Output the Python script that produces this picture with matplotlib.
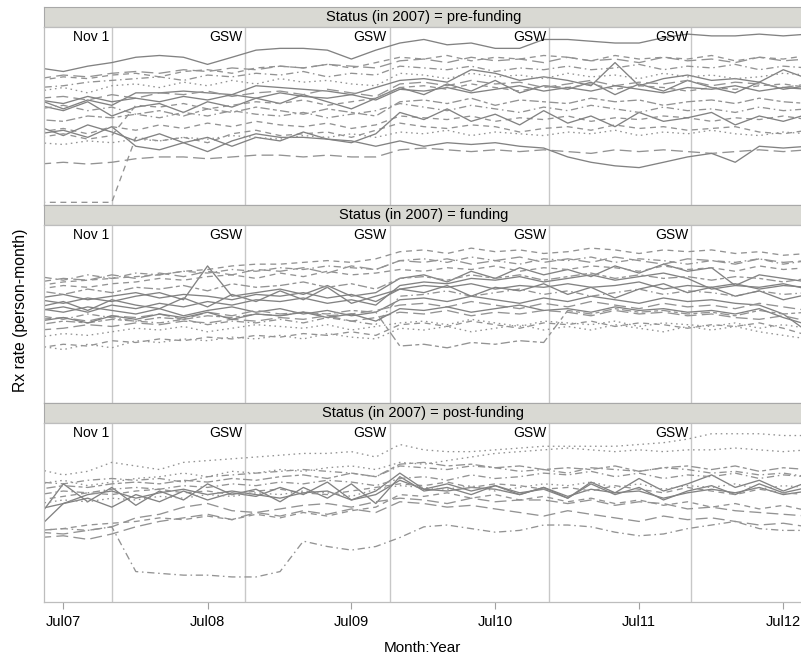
'''
Rx rate per person-month by status in 2007, one panel per status.
'''

import matplotlib
matplotlib.use('Agg')
import matplotlib.pyplot as plt
import pandas as pd

plt.rcParams['font.family'] = ['Liberation Sans', 'DejaVu Sans']

# bimonthly observations, May 2007 .. Sep 2012
months = pd.date_range('2007-05-01', '2012-09-01', freq='2MS')

# event lines
events = ['2007-11-01', '2008-10-05', '2009-10-06', '2010-11-15', '2011-11-10']
event_labels = ['Nov 1', 'GSW', 'GSW', 'GSW', 'GSW']

tick_dates = ['2007-07-01', '2008-07-01', '2009-07-01', '2010-07-01', '2011-07-01', '2012-07-01']
tick_labels = ['Jul07', 'Jul08', 'Jul09', 'Jul10', 'Jul11', 'Jul12']

statuses = ['pre-funding', 'funding', 'post-funding']

# pre-funding
pre_01 = [77, 75, 78, 80, 83, 84, 83, 79, 83, 87, 88, 88, 87, 82, 87, 91, 93, 90, 91, 88, 88, 93, 93, 92, 91, 91, 94, 96, 95, 95, 96, 95, 96]
pre_02 = [1.5, 1.5, 1.5, 1.5, 38, 36, 38, 35, 40, 42, 39, 40, 41, 38, 42, 46, 44, 43, 45, 44, 41, 43, 44, 42, 45, 43, 44, 42, 43, 44, 41, 40, 42]
pre_03 = [23, 24, 23, 24, 26, 27, 27, 26, 27, 28, 28, 27, 28, 27, 27, 31, 32, 31, 30, 31, 30, 31, 30, 29, 31, 30, 31, 30, 29, 30, 31, 30, 31]
pre_04 = [40, 42, 38, 44, 33, 31, 35, 30, 36, 40, 38, 38, 37, 36, 33, 36, 33, 35, 34, 35, 33, 32, 27, 24, 22, 21, 24, 27, 29, 24, 33, 32, 33]
pre_05 = [59, 54, 59, 56, 63, 63, 64, 63, 62, 67, 66, 65, 64, 62, 66, 70, 71, 69, 76, 74, 70, 72, 70, 67, 80, 67, 71, 73, 70, 71, 69, 76, 71]
pre_06 = [70, 72, 71, 73, 74, 72, 75, 76, 74, 77, 78, 77, 79, 77, 80, 83, 82, 84, 81, 83, 82, 84, 83, 81, 84, 82, 83, 82, 84, 81, 83, 82, 84]
pre_07 = [66, 67, 69, 70, 71, 72, 70, 73, 72, 74, 73, 75, 72, 74, 73, 78, 77, 76, 78, 75, 77, 76, 78, 76, 77, 79, 76, 78, 77, 79, 76, 78, 77]
pre_08 = [64, 66, 63, 67, 68, 66, 69, 67, 70, 68, 71, 69, 70, 68, 67, 74, 73, 71, 74, 72, 73, 71, 74, 72, 73, 71, 74, 72, 73, 71, 72, 74, 73]
pre_09 = [56, 53, 58, 50, 55, 57, 52, 58, 55, 60, 57, 62, 58, 54, 60, 66, 62, 68, 64, 70, 63, 67, 65, 69, 62, 68, 64, 70, 66, 63, 69, 65, 67]
pre_10 = [60, 61, 59, 62, 60, 63, 62, 64, 61, 63, 64, 62, 65, 63, 61, 68, 69, 67, 70, 68, 69, 66, 68, 70, 67, 69, 68, 70, 67, 69, 68, 66, 68]
pre_11 = [48, 47, 50, 49, 51, 53, 50, 54, 52, 55, 53, 51, 54, 52, 50, 58, 59, 57, 60, 56, 59, 58, 57, 60, 58, 59, 56, 58, 59, 57, 60, 58, 57]
pre_12 = [41, 43, 40, 44, 42, 45, 43, 46, 44, 47, 45, 44, 46, 43, 45, 50, 49, 48, 50, 47, 49, 48, 50, 47, 49, 48, 50, 49, 47, 49, 48, 50, 48]
pre_13 = [44, 39, 45, 41, 36, 40, 35, 38, 33, 38, 36, 41, 37, 35, 40, 52, 48, 54, 47, 51, 45, 53, 46, 50, 44, 52, 47, 49, 52, 45, 50, 47, 51]
pre_14 = [35, 34, 36, 35, 37, 36, 38, 37, 39, 38, 37, 39, 38, 40, 38, 41, 40, 42, 39, 41, 40, 39, 41, 40, 42, 39, 41, 40, 42, 40, 39, 41, 40]
pre_15 = [54, 56, 53, 55, 51, 49, 52, 50, 53, 51, 50, 52, 49, 51, 53, 57, 55, 53, 56, 54, 52, 55, 53, 56, 54, 52, 55, 53, 54, 52, 55, 53, 54]
pre_16 = [38, 40, 37, 39, 56, 55, 57, 54, 56, 58, 57, 59, 56, 58, 60, 66, 67, 65, 68, 66, 64, 67, 66, 68, 65, 67, 66, 64, 66, 65, 67, 68, 66]
pre_17 = [59, 57, 61, 58, 60, 58, 61, 59, 62, 60, 63, 61, 60, 62, 59, 65, 64, 66, 63, 65, 67, 64, 66, 64, 67, 65, 63, 66, 65, 67, 64, 66, 65]
pre_18 = [71, 73, 72, 74, 75, 74, 76, 75, 77, 76, 78, 77, 79, 78, 77, 81, 82, 80, 83, 81, 82, 80, 83, 81, 82, 80, 83, 81, 82, 80, 83, 81, 82]

# funding
fun_01 = [66, 68, 69, 70, 71, 72, 74, 75, 77, 78, 78, 79, 80, 79, 81, 85, 86, 84, 87, 85, 86, 84, 85, 87, 86, 84, 86, 85, 86, 84, 85, 83, 84]
fun_02 = [71, 69, 72, 70, 73, 72, 74, 73, 75, 74, 76, 75, 77, 76, 75, 80, 81, 79, 82, 80, 78, 81, 80, 82, 79, 81, 80, 78, 80, 79, 81, 78, 80]
fun_03 = [58, 56, 59, 57, 60, 62, 58, 77, 60, 62, 64, 61, 66, 60, 62, 70, 72, 68, 74, 70, 76, 72, 75, 71, 77, 73, 78, 74, 76, 66, 72, 70, 68]
fun_04 = [52, 54, 51, 55, 53, 56, 54, 57, 55, 58, 57, 59, 56, 58, 55, 66, 68, 67, 70, 69, 71, 68, 70, 72, 69, 71, 73, 70, 64, 66, 65, 67, 64]
fun_05 = [53, 51, 54, 52, 50, 53, 49, 52, 54, 51, 53, 50, 52, 49, 51, 58, 59, 57, 60, 58, 56, 59, 57, 60, 58, 56, 59, 57, 58, 56, 55, 50, 40]
fun_06 = [47, 48, 46, 49, 48, 50, 47, 51, 49, 52, 50, 51, 49, 50, 52, 55, 56, 54, 57, 55, 53, 56, 54, 57, 55, 53, 56, 54, 55, 53, 56, 54, 52]
fun_07 = [37, 39, 38, 40, 42, 41, 43, 40, 42, 44, 43, 42, 44, 41, 43, 45, 46, 44, 47, 45, 43, 46, 45, 44, 46, 43, 45, 44, 43, 45, 42, 44, 42]
fun_08 = [44, 46, 45, 47, 46, 48, 47, 49, 48, 50, 49, 51, 50, 52, 51, 32, 33, 31, 34, 33, 35, 34, 52, 50, 53, 51, 52, 50, 51, 49, 52, 50, 51]
fun_09 = [31, 33, 32, 35, 34, 36, 35, 37, 36, 38, 37, 39, 38, 40, 38, 44, 45, 43, 46, 44, 42, 45, 44, 46, 43, 45, 44, 42, 44, 43, 45, 42, 38]
fun_10 = [41, 42, 44, 43, 45, 44, 46, 45, 47, 46, 48, 47, 49, 46, 48, 51, 50, 52, 49, 51, 50, 52, 51, 49, 52, 50, 51, 49, 50, 48, 47, 49, 46]
fun_11 = [59, 61, 58, 60, 62, 59, 61, 60, 58, 61, 60, 62, 59, 61, 57, 64, 66, 65, 67, 64, 66, 65, 67, 65, 66, 68, 64, 66, 65, 67, 64, 66, 65]
fun_12 = [49, 47, 50, 48, 46, 45, 47, 44, 46, 45, 47, 45, 48, 46, 44, 60, 61, 63, 60, 62, 64, 61, 63, 60, 62, 64, 61, 63, 62, 60, 63, 61, 62]
fun_13 = [64, 66, 65, 67, 68, 70, 69, 71, 72, 70, 73, 71, 74, 72, 73, 75, 74, 76, 75, 77, 74, 76, 75, 77, 76, 74, 77, 75, 76, 74, 77, 75, 76]
fun_14 = [54, 57, 52, 58, 55, 53, 59, 54, 61, 57, 63, 58, 65, 56, 60, 64, 62, 66, 60, 65, 63, 67, 61, 65, 59, 64, 67, 62, 65, 60, 63, 58, 61]
fun_15 = [32, 30, 33, 31, 35, 34, 36, 35, 37, 36, 38, 36, 39, 37, 36, 42, 41, 43, 40, 42, 44, 41, 43, 41, 44, 42, 40, 43, 41, 43, 40, 38, 36]
fun_16 = [68, 70, 69, 72, 70, 73, 71, 74, 72, 75, 74, 76, 73, 77, 75, 80, 79, 81, 78, 80, 82, 79, 81, 79, 82, 80, 78, 81, 80, 78, 81, 79, 80]
fun_17 = [63, 61, 64, 62, 65, 64, 66, 63, 67, 65, 66, 68, 65, 67, 64, 70, 71, 69, 72, 70, 72, 69, 71, 73, 70, 72, 70, 71, 69, 71, 70, 68, 70]
fun_18 = [46, 48, 45, 49, 47, 50, 48, 51, 47, 50, 49, 51, 48, 50, 46, 53, 52, 54, 51, 53, 55, 52, 53, 51, 54, 52, 53, 51, 52, 50, 53, 48, 44]

# post-funding
post_01 = [74, 71, 73, 78, 76, 74, 78, 79, 80, 81, 82, 83, 83, 84, 81, 88, 85, 84, 84, 85, 86, 87, 87, 87, 87, 88, 89, 91, 94, 94, 94, 93, 93]
post_02 = [66, 68, 65, 67, 69, 70, 72, 70, 73, 72, 74, 73, 75, 76, 74, 78, 77, 79, 81, 83, 84, 85, 86, 85, 84, 85, 84, 85, 85, 86, 85, 84, 85]
post_03 = [40, 41, 40, 42, 17, 16, 15, 15, 14, 14, 17, 34, 31, 29, 31, 36, 42, 43, 41, 39, 40, 43, 43, 42, 39, 37, 38, 41, 43, 45, 41, 40, 40]
post_04 = [67, 66, 68, 69, 68, 69, 67, 70, 71, 72, 73, 74, 73, 72, 70, 76, 75, 74, 76, 75, 73, 74, 72, 75, 74, 73, 75, 74, 72, 73, 71, 72, 70]
post_05 = [48, 66, 56, 64, 54, 62, 57, 66, 60, 63, 56, 64, 58, 66, 55, 70, 62, 64, 60, 65, 61, 63, 58, 66, 60, 64, 57, 62, 65, 60, 66, 61, 64]
post_06 = [42, 55, 60, 62, 58, 61, 63, 60, 62, 60, 58, 61, 62, 57, 60, 68, 63, 62, 64, 63, 60, 64, 59, 63, 61, 62, 58, 61, 63, 61, 64, 60, 62]
post_07 = [39, 38, 40, 42, 47, 49, 53, 55, 51, 50, 52, 54, 55, 53, 56, 58, 57, 55, 58, 56, 57, 57, 55, 57, 54, 56, 55, 52, 53, 51, 50, 49, 48]
post_08 = [40, 41, 43, 44, 45, 47, 46, 48, 46, 49, 47, 50, 48, 51, 53, 60, 59, 61, 58, 60, 57, 59, 56, 58, 55, 57, 54, 56, 53, 55, 52, 54, 51]
post_09 = [63, 65, 64, 66, 67, 66, 68, 67, 69, 68, 70, 71, 69, 72, 70, 77, 78, 76, 77, 75, 76, 74, 75, 74, 76, 73, 75, 76, 74, 76, 73, 75, 74]
post_10 = [57, 59, 61, 60, 62, 63, 61, 62, 60, 62, 63, 61, 60, 62, 64, 66, 65, 67, 64, 66, 65, 63, 64, 62, 65, 63, 61, 64, 62, 60, 63, 61, 60]
post_11 = [52, 55, 58, 53, 60, 56, 62, 57, 61, 59, 64, 60, 67, 57, 62, 72, 63, 66, 62, 65, 60, 64, 58, 67, 61, 69, 62, 66, 71, 64, 68, 62, 67]
post_12 = [36, 37, 35, 38, 42, 45, 47, 49, 46, 50, 48, 51, 49, 52, 50, 56, 55, 53, 54, 52, 50, 48, 51, 49, 47, 45, 48, 46, 47, 45, 43, 44, 42]
post_13 = [60, 62, 61, 63, 64, 63, 65, 64, 66, 65, 67, 66, 68, 67, 65, 69, 70, 68, 71, 69, 70, 72, 71, 73, 70, 72, 69, 71, 70, 72, 69, 71, 70]
post_14 = [55, 57, 56, 58, 57, 59, 58, 60, 59, 61, 60, 62, 61, 59, 63, 65, 64, 63, 65, 62, 64, 66, 65, 67, 64, 66, 63, 65, 64, 66, 63, 65, 64]

# line types, R style
LTY = {
    'solid': '-',
    'dashed': (0, (4.5, 3.5)),
    'dotted': (0, (1.2, 2.8)),
    'dotdash': (0, (1.2, 2.8, 5.5, 2.8)),
    'longdash': (0, (9, 4)),
    'twodash': (0, (3, 2.5, 7, 2.5)),
}

panels = [
    [(pre_01, 'solid'), (pre_02, 'dashed'), (pre_03, 'longdash'), (pre_04, 'solid'),
     (pre_05, 'solid'), (pre_06, 'dashed'), (pre_07, 'dotdash'), (pre_08, 'dotted'),
     (pre_09, 'solid'), (pre_10, 'longdash'), (pre_11, 'twodash'), (pre_12, 'dashed'),
     (pre_13, 'solid'), (pre_14, 'dotted'), (pre_15, 'dotdash'), (pre_16, 'dashed'),
     (pre_17, 'solid'), (pre_18, 'longdash')],
    [(fun_01, 'dashed'), (fun_02, 'dotdash'), (fun_03, 'solid'), (fun_04, 'solid'),
     (fun_05, 'solid'), (fun_06, 'longdash'), (fun_07, 'dotted'), (fun_08, 'twodash'),
     (fun_09, 'dashed'), (fun_10, 'longdash'), (fun_11, 'solid'), (fun_12, 'dotdash'),
     (fun_13, 'dashed'), (fun_14, 'solid'), (fun_15, 'dotted'), (fun_16, 'longdash'),
     (fun_17, 'twodash'), (fun_18, 'solid')],
    [(post_01, 'dotted'), (post_02, 'dotted'), (post_03, 'dotdash'), (post_04, 'dotdash'),
     (post_05, 'solid'), (post_06, 'solid'), (post_07, 'longdash'), (post_08, 'dashed'),
     (post_09, 'twodash'), (post_10, 'dashed'), (post_11, 'solid'), (post_12, 'longdash'),
     (post_13, 'dotdash'), (post_14, 'dotted')],
]

W, H = 801, 660


def box(x0, y0, x1, y1):
    # pixel box (top-left origin) -> figure fraction rect
    return [x0 / W, 1 - y1 / H, (x1 - x0) / W, (y1 - y0) / H]


fig = plt.figure(figsize=(W / 100, H / 100), dpi=100)
fig.patch.set_facecolor('white')

# strip top, plot top, plot bottom (pixels)
rows = [(7, 27, 205), (205, 225, 403), (403, 423, 602)]
x_left, x_right = 44, 803
xlim = (pd.Timestamp('2007-05-13'), pd.Timestamp('2012-08-20'))

for i, (st, pt, pb) in enumerate(rows):
    # strip
    sax = fig.add_axes(box(x_left, st, x_right, pt))
    sax.set_facecolor('#d9d9d3')
    sax.set_xticks([])
    sax.set_yticks([])
    for s in sax.spines.values():
        s.set_color('#a8a8a8')
        s.set_linewidth(0.8)
    sax.text(0.5, 0.48, 'Status (in 2007) = {}'.format(statuses[i]),
             ha='center', va='center', fontsize=10.5, transform=sax.transAxes)

    ax = fig.add_axes(box(x_left, pt, x_right, pb))
    ax.set_xlim(xlim)
    ax.set_ylim(0, 100)
    ax.set_yticks([])
    for s in ax.spines.values():
        s.set_color('#bdbdbd')
        s.set_linewidth(0.9)

    for d, lab in zip(events, event_labels):
        ax.axvline(pd.Timestamp(d), color='#c8c8c8', lw=1.0, zorder=1)
        ax.annotate(lab, xy=(pd.Timestamp(d), 1), xycoords=('data', 'axes fraction'),
                    xytext=(-2, -2), textcoords='offset points',
                    ha='right', va='top', fontsize=10)

    for vals, lty in panels[i]:
        col = '#828282' if lty == 'solid' else '#939393'
        ax.plot(months, vals, color=col, lw=0.95, linestyle=LTY[lty], zorder=2)

    if i == 2:
        ax.set_xticks([pd.Timestamp(t) for t in tick_dates])
        ax.set_xticklabels(tick_labels, fontsize=10.5)
        ax.tick_params(axis='x', length=5, width=0.8, color='#a0a0a0', pad=4)
    else:
        ax.set_xticks([])

fig.text(21 / W, 1 - 310 / H, 'Rx rate (person-month)', rotation=90,
         ha='center', va='center', fontsize=11.3)
fig.text(422 / W, 1 - 648 / H, 'Month:Year', ha='center', va='center', fontsize=11)

fig.savefig('out.png', dpi=100)
